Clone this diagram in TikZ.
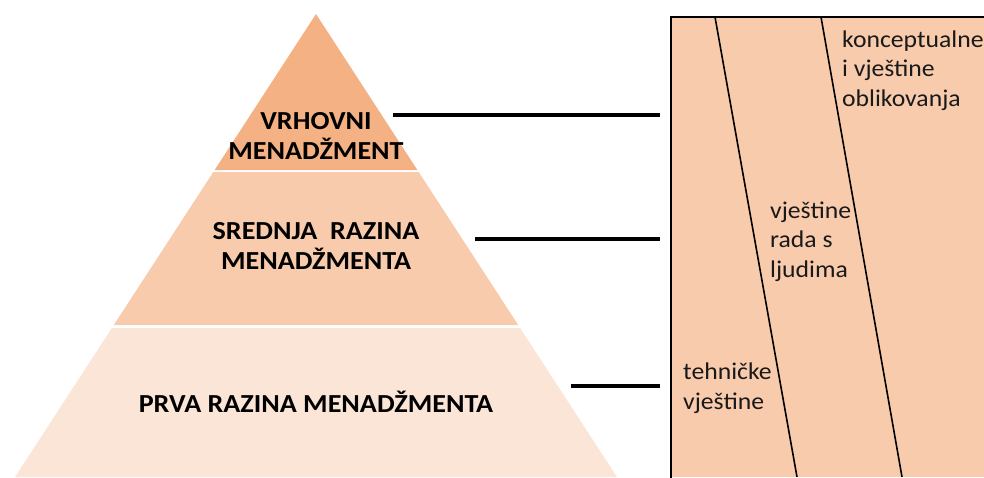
\documentclass[tikz,border=0pt]{standalone}
\usepackage{fontspec}
\setmainfont{Carlito}
\newfontfamily\lvlfont[FakeStretch=1.08]{Carlito}
\newfontfamily\skillfont[FakeStretch=1.07]{Carlito}
\definecolor{topband}{HTML}{F4B183}
\definecolor{midband}{HTML}{F8CBAD}
\definecolor{lowband}{HTML}{FBE5D6}
\definecolor{boxfill}{HTML}{F8CBAD}
\tikzset{
  lvltext/.style={font=\lvlfont\bfseries\fontsize{26}{30}\selectfont, align=center, anchor=base, inner sep=0pt},
  skilltext/.style={font=\skillfont\fontsize{24}{29.5}\selectfont, align=left, anchor=base west, inner sep=0pt, text=black!90},
  conn/.style={line width=3.2pt},
  boxedge/.style={line width=2pt},
  divider/.style={line width=1.6pt}
}
\begin{document}
\begin{tikzpicture}[x=1pt,y=-1pt]
\useasboundingbox (0,0) rectangle (984,477);
% pyramid bands
\fill[topband] (316,14) -- (417.4,170) -- (214.6,170) -- cycle;
\fill[midband] (213.3,172) -- (418.7,172) -- (518.2,325) -- (113.8,325) -- cycle;
\fill[lowband] (111.9,328) -- (520.1,328) -- (617,477) -- (15,477) -- cycle;
% level labels (base anchor = baseline of last line)
\node[lvltext] (vrh) at (316,159) {VRHOVNI\\MENADŽMENT};
\node[lvltext] (sred) at (316,269) {SREDNJA\ \ RAZINA\\MENADŽMENTA};
\node[lvltext] (prva) at (316,412) {PRVA RAZINA MENADŽMENTA};
% skills box
\fill[boxfill] (671,17) rectangle (984,477);
\draw[boxedge] (671,478) -- (671,17) -- (985,17);
\coordinate (d1t) at (715,17);
\coordinate (d1b) at (797,477);
\coordinate (d2t) at (821,17);
\coordinate (d2b) at (902,477);
\draw[divider] (d1t) -- (d1b);
\draw[divider] (d2t) -- (d2b);
\node[skilltext] (konc) at (842,106) {konceptualne\\i vještine\\oblikovanja};
\node[skilltext] (rad) at (770,277) {vještine\\rada s\\ljudima};
\node[skilltext] (teh) at (683,409) {tehničke\\vještine};
% connectors
\coordinate (c1s) at (393,115);
\coordinate (c1e) at (660,115);
\coordinate (c2s) at (475,239);
\coordinate (c2e) at (660,239);
\coordinate (c3s) at (571,386);
\coordinate (c3e) at (660,386);
\draw[conn] (c1s) -- (c1e);
\draw[conn] (c2s) -- (c2e);
\draw[conn] (c3s) -- (c3e);
\end{tikzpicture}
\end{document}
